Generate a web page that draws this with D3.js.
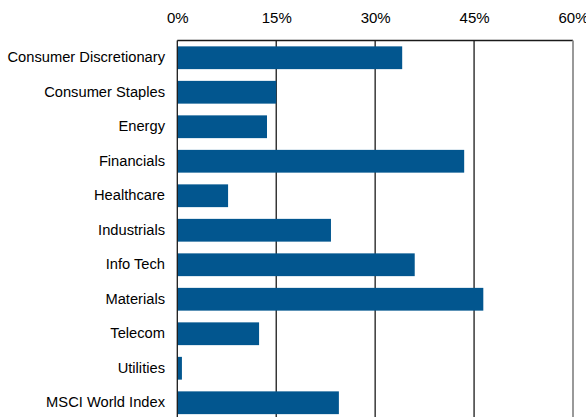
<!DOCTYPE html>
<html>
<head>
<meta charset="utf-8">
<script src="https://cdn.jsdelivr.net/npm/d3@7"></script>
<style>
  html, body { margin: 0; padding: 0; background: #fff; }
  svg { display: block; }
  text { font-family: "Liberation Sans", Arial, sans-serif; fill: #000; }
</style>
</head>
<body>
<svg id="chart" width="586" height="417"></svg>
<script>
// Sector returns (%)
const categories = [
  "Consumer Discretionary", "Consumer Staples", "Energy", "Financials",
  "Healthcare", "Industrials", "Info Tech", "Materials", "Telecom",
  "Utilities", "MSCI World Index"
];
const values = [34.1, 15.0, 13.6, 43.5, 7.7, 23.3, 36.0, 46.4, 12.4, 0.7, 24.5];
const tickValues = [0, 15, 30, 45, 60];

const svg = d3.select("#chart");
const plotLeft = 177.3, plotRight = 573, plotTop = 40.5, plotBottom = 420;

const x = d3.scaleLinear().domain([0, 60]).range([plotLeft, plotRight]);
const y = d3.scaleBand().domain(categories).range([plotTop, plotBottom])
  .paddingInner(0.34).paddingOuter(0.17);

// vertical gridlines
svg.append("g").selectAll("line")
  .data(tickValues.filter(d => d > 0 && d < 60))
  .join("line")
  .attr("x1", d => x(d)).attr("x2", d => x(d))
  .attr("y1", plotTop).attr("y2", 417)
  .attr("stroke", "#1a1a1a").attr("stroke-width", 1.3);

// plot frame: top and right edges
svg.append("line").attr("x1", plotLeft).attr("x2", plotRight).attr("y1", plotTop).attr("y2", plotTop)
  .attr("stroke", "#1a1a1a").attr("stroke-width", 1.3);
svg.append("line").attr("x1", plotRight).attr("x2", plotRight).attr("y1", plotTop).attr("y2", 417)
  .attr("stroke", "#999").attr("stroke-width", 2);

// bars
svg.append("g").selectAll("rect")
  .data(categories.map((c, i) => ({ c, v: values[i] })))
  .join("rect")
  .attr("x", x(0))
  .attr("y", d => y(d.c))
  .attr("width", d => x(d.v) - x(0))
  .attr("height", y.bandwidth())
  .attr("fill", "#02568F");

// left axis line
svg.append("line").attr("x1", plotLeft).attr("x2", plotLeft).attr("y1", plotTop).attr("y2", 417)
  .attr("stroke", "#1a1a1a").attr("stroke-width", 1.3);

// top axis labels
const xAxis = d3.axisTop(x).tickValues(tickValues).tickFormat(d => d + "%").tickSize(0).tickPadding(0);
const gx = svg.append("g").attr("transform", "translate(0,23)").call(xAxis);
gx.select(".domain").remove();
gx.selectAll("text").attr("font-size", 15).attr("font-family", "Liberation Sans, Arial, sans-serif").attr("fill", "#000");

// category labels
const yAxis = d3.axisLeft(y).tickSize(0).tickPadding(0);
const gy = svg.append("g").attr("transform", "translate(165,0)").call(yAxis);
gy.select(".domain").remove();
gy.selectAll("text").attr("font-size", 14.7).attr("font-family", "Liberation Sans, Arial, sans-serif").attr("fill", "#000");
</script>
</body>
</html>
